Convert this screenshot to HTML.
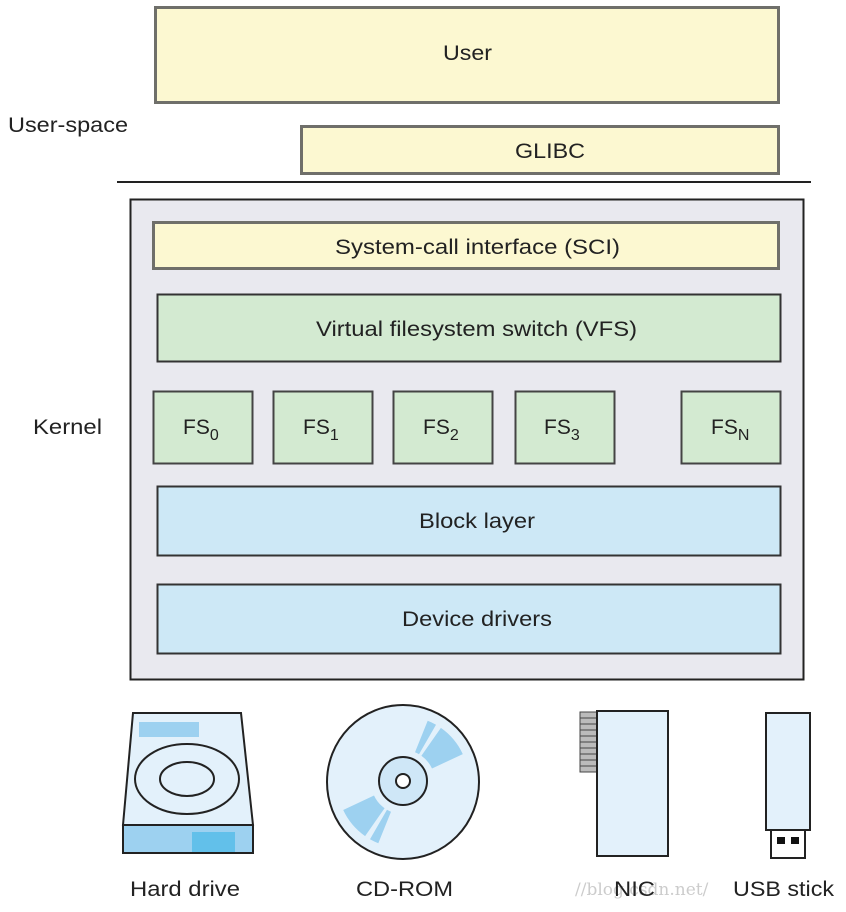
<!DOCTYPE html>
<html><head><meta charset="utf-8"><style>
html,body{margin:0;padding:0;background:#fff}
svg{display:block}
text{font-family:"Liberation Sans",sans-serif;font-size:21px;fill:#222}
</style></head><body>
<svg width="846" height="912" viewBox="0 0 846 912" xmlns="http://www.w3.org/2000/svg">
<rect x="155.5" y="7.5" width="623" height="95" fill="#fcf8d1" stroke="#6f6f6a" stroke-width="3"/>
<text x="443" y="60" textLength="49" lengthAdjust="spacingAndGlyphs">User</text>
<rect x="301.5" y="126.5" width="477" height="47" fill="#fcf8d1" stroke="#6f6f6a" stroke-width="3"/>
<text x="515" y="158" textLength="70" lengthAdjust="spacingAndGlyphs">GLIBC</text>
<text x="8" y="132" textLength="120" lengthAdjust="spacingAndGlyphs">User-space</text>
<line x1="117" y1="182" x2="811" y2="182" stroke="#222" stroke-width="2"/>
<rect x="130.5" y="199.5" width="673" height="480" fill="#e9e9ef" stroke="#222" stroke-width="2"/>
<text x="33" y="434" textLength="69" lengthAdjust="spacingAndGlyphs">Kernel</text>
<rect x="153.5" y="222.5" width="625" height="46" fill="#fcf8d1" stroke="#6f6f6a" stroke-width="3"/>
<text x="335" y="254" textLength="285" lengthAdjust="spacingAndGlyphs">System-call interface (SCI)</text>
<rect x="157.5" y="294.5" width="623" height="67" fill="#d3ead1" stroke="#333" stroke-width="2"/>
<text x="316" y="336" textLength="321" lengthAdjust="spacingAndGlyphs">Virtual filesystem switch (VFS)</text>
<g fill="#d3ead1" stroke="#444" stroke-width="2">
<rect x="153.5" y="391.5" width="99" height="72"/>
<rect x="273.5" y="391.5" width="99" height="72"/>
<rect x="393.5" y="391.5" width="99" height="72"/>
<rect x="515.5" y="391.5" width="99" height="72"/>
<rect x="681.5" y="391.5" width="99" height="72"/>
</g>
<text x="183" y="434">FS<tspan font-size="16" dy="6">0</tspan></text>
<text x="303" y="434">FS<tspan font-size="16" dy="6">1</tspan></text>
<text x="423" y="434">FS<tspan font-size="16" dy="6">2</tspan></text>
<text x="544" y="434">FS<tspan font-size="16" dy="6">3</tspan></text>
<text x="711" y="434">FS<tspan font-size="16" dy="6">N</tspan></text>
<rect x="157.5" y="486.5" width="623" height="69" fill="#cde8f6" stroke="#333" stroke-width="2"/>
<text x="419" y="528" textLength="116" lengthAdjust="spacingAndGlyphs">Block layer</text>
<rect x="157.5" y="584.5" width="623" height="69" fill="#cde8f6" stroke="#333" stroke-width="2"/>
<text x="402" y="626" textLength="150" lengthAdjust="spacingAndGlyphs">Device drivers</text>
<!-- Hard drive -->
<polygon points="133,713 241,713 253,825 123,825" fill="#e3f1fb" stroke="#222" stroke-width="2"/>
<rect x="139" y="722" width="60" height="15" fill="#9dd1f0"/>
<ellipse cx="187" cy="779" rx="52" ry="35" fill="none" stroke="#222" stroke-width="2"/>
<ellipse cx="187" cy="779" rx="27" ry="17" fill="none" stroke="#222" stroke-width="2"/>
<rect x="123" y="825" width="130" height="28" fill="#9dd1f0" stroke="#222" stroke-width="2"/>
<rect x="192" y="832" width="43" height="20" fill="#62c0ea"/>
<!-- CD -->
<ellipse cx="403" cy="782" rx="76" ry="77" fill="#e3f1fb" stroke="#222" stroke-width="2"/>
<g fill="#9dd1f0">
<path d="M432,768.5 L462.8,754.1 A66 66 0 0 0 440.9,727.9 L421.4,755.8 A32 32 0 0 1 432,768.5Z"/>
<path d="M419,754.3 L436,724.8 A66 66 0 0 0 427.7,720.8 L415,752.3 A32 32 0 0 1 419,754.3Z"/>
<path d="M374,795.5 L343.2,810 A66 66 0 0 0 365.1,836.1 L384.6,808.2 A32 32 0 0 1 374,795.5Z"/>
<path d="M387,809.7 L370,839.2 A66 66 0 0 0 378.3,843.2 L391,811.7 A32 32 0 0 1 387,809.7Z"/>
</g>
<circle cx="403" cy="781" r="24" fill="#cfe7f7" stroke="#222" stroke-width="2"/>
<circle cx="403" cy="781" r="7" fill="#fff" stroke="#222" stroke-width="2"/>
<!-- NIC -->
<rect x="580" y="712" width="17" height="60" fill="#bbb" stroke="#444" stroke-width="1"/>
<g stroke="#444" stroke-width="1">
<line x1="580" y1="718" x2="597" y2="718"/><line x1="580" y1="724" x2="597" y2="724"/>
<line x1="580" y1="730" x2="597" y2="730"/><line x1="580" y1="736" x2="597" y2="736"/>
<line x1="580" y1="742" x2="597" y2="742"/><line x1="580" y1="748" x2="597" y2="748"/>
<line x1="580" y1="754" x2="597" y2="754"/><line x1="580" y1="760" x2="597" y2="760"/>
<line x1="580" y1="766" x2="597" y2="766"/>
</g>
<rect x="597" y="711" width="71" height="145" fill="#e3f1fb" stroke="#222" stroke-width="2"/>
<!-- USB -->
<rect x="766" y="713" width="44" height="117" fill="#e3f1fb" stroke="#222" stroke-width="2"/>
<rect x="771" y="830" width="34" height="28" fill="#fff" stroke="#222" stroke-width="2"/>
<rect x="777" y="837" width="8" height="7" fill="#111"/>
<rect x="791" y="837" width="8" height="7" fill="#111"/>
<text x="575" y="895" style="font-family:'DejaVu Serif',serif;font-size:17px;fill:#ccc">//blog.csdn.net/</text>
<text x="130" y="896" textLength="110" lengthAdjust="spacingAndGlyphs">Hard drive</text>
<text x="356" y="896" textLength="97" lengthAdjust="spacingAndGlyphs">CD-ROM</text>
<text x="614" y="896" textLength="41" lengthAdjust="spacingAndGlyphs">NIC</text>
<text x="733" y="896" textLength="101" lengthAdjust="spacingAndGlyphs">USB stick</text>
</svg>
</body></html>
